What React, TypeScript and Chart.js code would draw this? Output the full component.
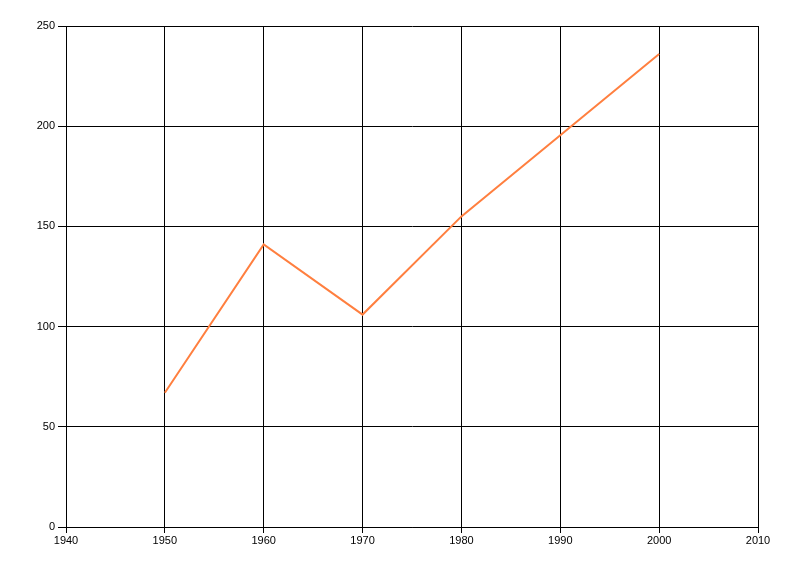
import React, { useEffect, useRef } from "react";
import { Chart, registerables } from "chart.js";

Chart.register(...registerables);

const years = [1950, 1960, 1970, 1980, 1990, 2000];
const values = [67, 141, 106, 155, 195.5, 236];
const xTicks = [1940, 1950, 1960, 1970, 1980, 1990, 2000, 2010];
const yTicks = [0, 50, 100, 150, 200, 250];

export default function App() {
  const ref = useRef<HTMLCanvasElement>(null);
  useEffect(() => {
    document.body.style.margin = "0";
    const ctx = ref.current!;
    const chart = new Chart(ctx, {
      type: "line",
      data: {
        datasets: [
          {
            data: years.map((y, i) => ({ x: y, y: values[i] })),
            borderColor: "#FF7F3F",
            borderWidth: 2,
            pointRadius: 0,
            tension: 0,
            fill: false,
          },
        ],
      },
      options: {
        animation: false,
        responsive: false,
        maintainAspectRatio: false,
        layout: { padding: { left: 0, top: 26, right: 42, bottom: 29 } },
        plugins: { legend: { display: false }, tooltip: { enabled: false } },
        scales: {
          x: {
            type: "linear",
            min: xTicks[0],
            max: xTicks[xTicks.length - 1],
            afterBuildTicks: (s: any) => {
              s.ticks = xTicks.map((v) => ({ value: v }));
            },
            afterFit: (s: any) => {
              s.height = 20;
            },
            grid: { color: "#000", lineWidth: 1, tickLength: 6, drawTicks: true },
            border: { color: "#000", width: 1 },
            ticks: {
              color: "#000",
              font: { family: "Liberation Sans", size: 11 },
              padding: 1,
              maxRotation: 0,
              autoSkip: false,
              callback: (v: any) => String(v),
            },
          },
          y: {
            type: "linear",
            min: yTicks[0],
            max: yTicks[yTicks.length - 1],
            afterBuildTicks: (s: any) => {
              s.ticks = yTicks.map((v) => ({ value: v }));
            },
            afterFit: (s: any) => {
              s.width = 66;
            },
            grid: { color: "#000", lineWidth: 1, tickLength: 8 },
            border: { color: "#000", width: 1 },
            ticks: {
              color: "#000",
              font: { family: "Liberation Sans", size: 11 },
              padding: 3,
              autoSkip: false,
              callback: (v: any) => String(v),
            },
          },
        },
      },
    });
    return () => chart.destroy();
  }, []);
  return (
    <div style={{ width: 800, height: 576, background: "#fff" }}>
      <canvas ref={ref} width={800} height={576} style={{ display: "block" }} />
    </div>
  );
}
